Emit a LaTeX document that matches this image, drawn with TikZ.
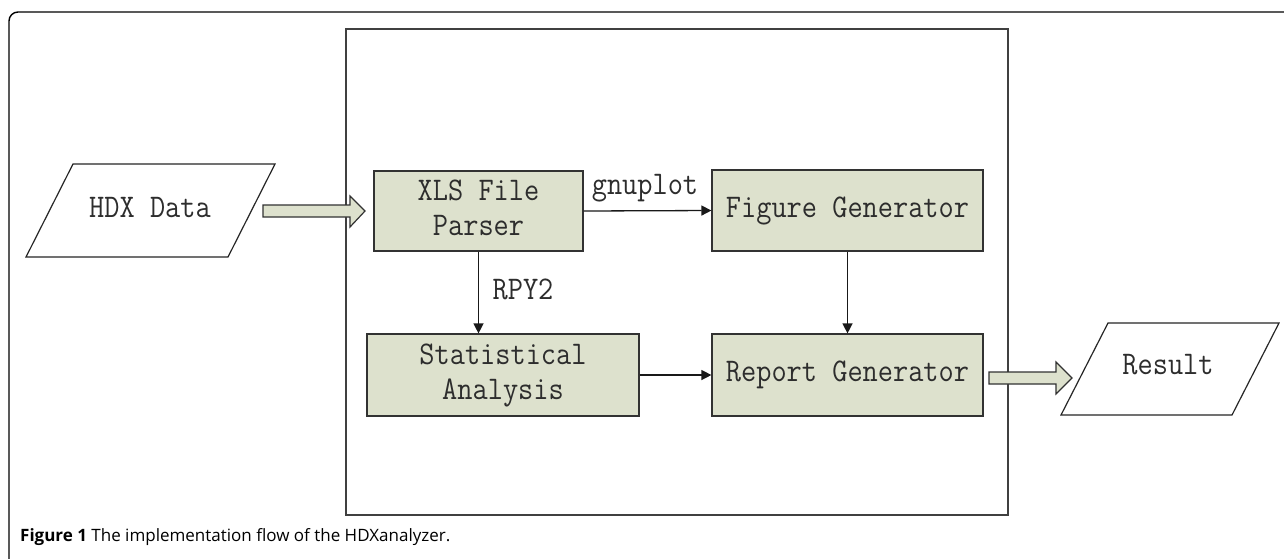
\documentclass[tikz,border=0pt]{standalone}
\usepackage{fontspec}
\newfontfamily\capfont{Open Sans}
\usetikzlibrary{arrows.meta}
\definecolor{boxfill}{RGB}{221,225,205}
\definecolor{boxline}{RGB}{50,50,50}
\definecolor{txtcol}{RGB}{45,45,45}
\newcommand{\tlines}[1]{\scalebox{1}[1.12]{\begin{tabular}{@{}c@{}}#1\end{tabular}}}
\begin{document}
\begin{tikzpicture}[x=1pt,y=-1pt,
  procbox/.style={draw=boxline, line width=1.2pt, fill=boxfill, inner sep=0pt, text=txtcol,
    font=\fontsize{29.5}{31}\selectfont\ttfamily},
  iotext/.style={inner sep=0pt, text=txtcol, font=\fontsize{29.5}{31}\selectfont\ttfamily},
  lbl/.style={inner sep=0pt, text=txtcol, font=\fontsize{29.5}{31}\selectfont\ttfamily},
  iolines/.style={draw=black!85, line width=1.2pt, line join=miter},
  flow/.style={draw=black!90, line width=1.3pt, -{Triangle[length=10pt,width=10pt]}},
  fatarrow/.style={draw=boxline, line width=1.2pt, fill=boxfill, line join=miter}
]
\useasboundingbox (0,0) rectangle (1284,558);
\fill[white] (0,0) rectangle (1284,558);
% outer frame (cropped)
\draw[line width=1.4pt, rounded corners=9pt] (9,570) -- (9,12) -- (1300,12);
% inner system box
\draw[draw=black!75, line width=1.5pt] (346,29) rectangle (1008,515);

% input / output parallelograms
\draw[iolines] (73,164) -- (275,164) -- (228,257) -- (26,257) -- cycle;
\node[iotext] (hdx) at (150,211) {\tlines{HDX Data}};
\draw[iolines] (1108,323) -- (1279,323) -- (1232,415) -- (1061,415) -- cycle;
\node[iotext] (res) at (1168,368) {\tlines{Result}};

% process boxes
\node[procbox, minimum width=209pt, minimum height=80pt] (xls) at (478.5,211) {\tlines{XLS File\\Parser}};
\node[procbox, minimum width=272pt, minimum height=82pt] (stat) at (503,375) {\tlines{Statistical\\Analysis}};
\node[procbox, minimum width=271pt, minimum height=81pt] (fig) at (847.5,210.5) {\tlines{Figure Generator}};
\node[procbox, minimum width=271pt, minimum height=82pt] (rep) at (847.5,375) {\tlines{Report Generator}};

% fat arrows
\draw[fatarrow] (263,205) -- (350,205) -- (350,196) -- (365,211) -- (350,227) -- (350,217) -- (263,217) -- cycle;
\draw[fatarrow] (989,372) -- (1056,372) -- (1056,362) -- (1072,378) -- (1056,394) -- (1056,384) -- (989,384) -- cycle;

% flows
\draw[flow] (xls.east) -- (fig.west);
\draw[flow] (xls.south) -- (xls.south |- stat.north);
\draw[flow] (fig.south) -- (rep.north);
\draw[flow] (stat.east) -- (rep.west);

\node[lbl] (gnu) at (645,188) {\tlines{gnuplot}};
\node[lbl] (rpy) at (523,293) {\tlines{RPY2}};

% caption
\node[anchor=base west, inner sep=0pt, font=\capfont\fontsize{17}{20}\selectfont] (cap) at (20,541)
  {\textbf{Figure 1} The implementation flow of the HDXanalyzer.};
\end{tikzpicture}
\end{document}
